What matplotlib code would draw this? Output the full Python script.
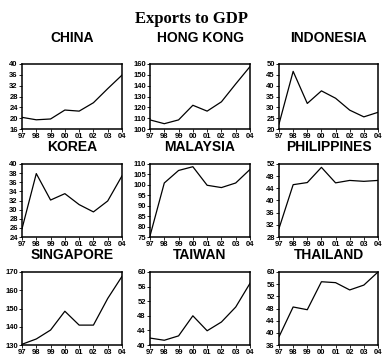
import matplotlib
matplotlib.use("Agg")
import matplotlib.pyplot as plt

years = ["97", "98", "99", "00", "01", "02", "03", "04"]

china = [20.3, 19.4, 19.7, 23.0, 22.6, 25.7, 30.9, 35.9]
hong_kong = [108.4, 104.9, 108.4, 121.9, 116.5, 125.1, 141.6, 157.6]
indonesia = [22.3, 46.6, 31.8, 37.6, 34.2, 28.7, 25.6, 27.7]
korea = [25.8, 37.9, 32.1, 33.5, 31.1, 29.5, 31.9, 37.4]
malaysia = [75.5, 100.9, 106.9, 108.7, 99.8, 98.7, 100.9, 107.4]
philippines = [30.8, 45.2, 45.9, 50.9, 45.8, 46.6, 46.3, 46.6]
singapore = [130.4, 133.3, 138.2, 148.5, 140.9, 140.9, 155.5, 167.6]
taiwan = [41.9, 41.3, 42.5, 48.0, 43.9, 46.3, 50.4, 56.9]
thailand = [38.7, 48.5, 47.6, 56.8, 56.5, 54.1, 55.7, 60.0]

countries = ["CHINA", "HONG KONG", "INDONESIA",
             "KOREA", "MALAYSIA", "PHILIPPINES",
             "SINGAPORE", "TAIWAN", "THAILAND"]
series = [china, hong_kong, indonesia, korea, malaysia, philippines,
          singapore, taiwan, thailand]
# y ticks for each panel: (start, stop, step)
yticks = [(16, 40, 4), (100, 160, 10), (20, 50, 5),
          (24, 40, 2), (75, 110, 5), (28, 52, 4),
          (130, 170, 10), (40, 60, 4), (36, 60, 4)]

W, H = 383, 364
fig = plt.figure(figsize=(W / 100, H / 100), dpi=100)
fig.patch.set_facecolor("white")

fig.text(0.5, 1 - 19 / H, "Exports to GDP", ha="center", va="center",
         family="Liberation Serif", fontweight="bold", fontsize=12)

cols = [(22, 122), (150, 250), (279, 378)]
rows = [(64, 129), (164, 237), (272, 345)]
title_y = [38, 147, 255]

for i, (name, vals, yt) in enumerate(zip(countries, series, yticks)):
    r, c = divmod(i, 3)
    x0, x1 = cols[c]
    y0, y1 = rows[r]
    ax = fig.add_axes([x0 / W, 1 - y1 / H, (x1 - x0) / W, (y1 - y0) / H])
    ax.plot(range(len(years)), vals, color="black", lw=0.9)
    ax.set_xlim(0, len(years) - 1)
    ax.set_ylim(yt[0], yt[1])
    ax.set_xticks(range(len(years)))
    ax.set_xticklabels(years)
    ax.set_yticks(range(yt[0], yt[1] + 1, yt[2]))
    ax.tick_params(axis="both", direction="out", length=2, width=0.6,
                   pad=1, labelsize=5.5)
    for lab in ax.get_xticklabels() + ax.get_yticklabels():
        lab.set_family("Liberation Sans")
        lab.set_fontweight("bold")
    for s in ax.spines.values():
        s.set_linewidth(1.1)
    fig.text((x0 + x1) / 2 / W, 1 - title_y[r] / H, name, ha="center",
             va="center", family="Liberation Sans", fontweight="bold",
             fontsize=10)

fig.savefig("out.png", dpi=100)
